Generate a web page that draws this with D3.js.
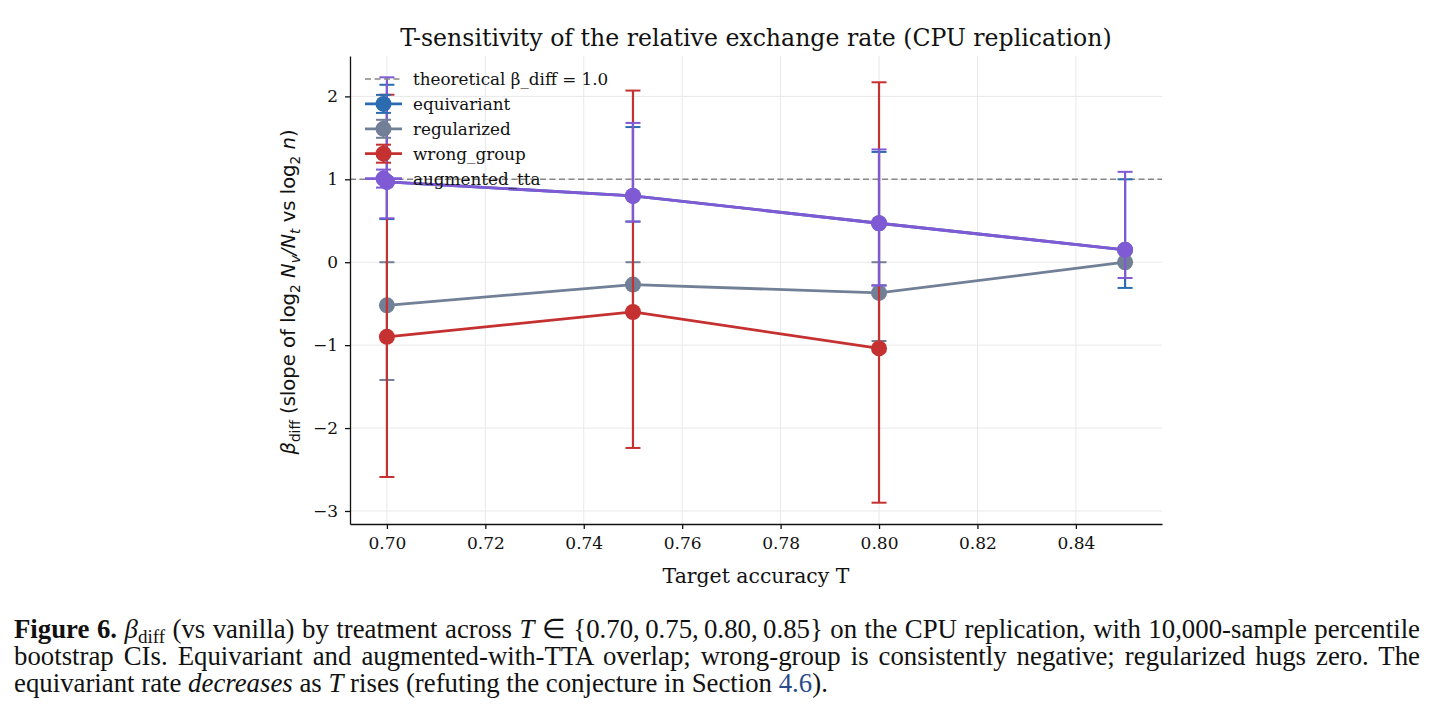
<!DOCTYPE html>
<meta charset="utf-8">
<style>

body {
  margin: 0;
  background: #fff;
}

svg text {
  font-family: "DejaVu Serif", serif;
  fill: #111;
}

.grid line {
  stroke: #e8e8e8;
  stroke-width: 1px;
}

.axis path,
.axis line {
  stroke: #111;
  stroke-width: 1.3px;
}

.axis text {
  font-family: "DejaVu Serif", serif;
  font-size: 17px;
  fill: #111;
}

.caption {
  font-family: "Liberation Serif", "Times New Roman", serif;
  font-size: 26.8px;
}

</style>
<body><svg width="1435" height="718"></svg></body>
<script src="https://d3js.org/d3.v7.min.js"></script>
<script>

// target accuracy values
var targets = [0.70, 0.75, 0.80, 0.85];
var xTicks = [0.70, 0.72, 0.74, 0.76, 0.78, 0.80, 0.82, 0.84];
var yTicks = [-3, -2, -1, 0, 1, 2];

// beta_diff estimates with bootstrap CI
var equivariantMean = [0.97, 0.80, 0.47, 0.15];
var equivariantLo   = [0.52, 0.49, -0.28, -0.31];
var equivariantHi   = [2.14, 1.63, 1.33, 1.00];

var regularizedMean = [-0.52, -0.27, -0.37, 0.00];
var regularizedLo   = [-1.42, -0.60, -0.95, 0.00];
var regularizedHi   = [0.00, 0.00, 0.00, 0.00];

var wrongGroupMean = [-0.90, -0.60, -1.04];
var wrongGroupLo   = [-2.59, -2.24, -2.90];
var wrongGroupHi   = [2.02, 2.07, 2.17];

var augmentedMean = [0.97, 0.80, 0.47, 0.15];
var augmentedLo   = [0.53, 0.49, -0.28, -0.19];
var augmentedHi   = [2.23, 1.68, 1.36, 1.09];

var theoreticalBeta = 1.0;

var series = [
  {name: "equivariant",   color: "#2b6cb0", mean: equivariantMean, lo: equivariantLo, hi: equivariantHi},
  {name: "regularized",   color: "#718096", mean: regularizedMean, lo: regularizedLo, hi: regularizedHi},
  {name: "wrong_group",   color: "#c53030", mean: wrongGroupMean,  lo: wrongGroupLo,  hi: wrongGroupHi},
  {name: "augmented_tta", color: "#805ad5", mean: augmentedMean,   lo: augmentedLo,   hi: augmentedHi}
];

var svg = d3.select("svg");

var plotLeft = 350, plotRight = 1162, plotTop = 56, plotBottom = 524;

var x = d3.scaleLinear().domain([0.6925, 0.8575]).range([plotLeft, plotRight]);
var y = d3.scaleLinear().domain([-3.157, 2.487]).range([plotBottom, plotTop]);

// grid
var grid = svg.append("g").attr("class", "grid");
grid.selectAll(".gx").data(xTicks).enter().append("line")
    .attr("x1", d => x(d)).attr("x2", d => x(d))
    .attr("y1", plotTop).attr("y2", plotBottom);
grid.selectAll(".gy").data(yTicks).enter().append("line")
    .attr("x1", plotLeft).attr("x2", plotRight)
    .attr("y1", d => y(d)).attr("y2", d => y(d));

// theoretical line
svg.append("line")
    .attr("x1", plotLeft).attr("x2", plotRight)
    .attr("y1", y(theoreticalBeta)).attr("y2", y(theoreticalBeta))
    .attr("stroke", "#888").attr("stroke-width", 1.4)
    .attr("stroke-dasharray", "6,3.5");

// axes
var minus = d => d < 0 ? "\u2212" + Math.abs(d) : d;

svg.append("g").attr("class", "axis")
    .attr("transform", "translate(0," + plotBottom + ")")
    .call(d3.axisBottom(x).tickValues(xTicks).tickFormat(d3.format(".2f")).tickSize(5).tickSizeOuter(0).tickPadding(8));

svg.append("g").attr("class", "axis")
    .attr("transform", "translate(" + plotLeft + ",0)")
    .call(d3.axisLeft(y).tickValues(yTicks).tickFormat(minus).tickSize(5).tickSizeOuter(0).tickPadding(7));

// series
var line = d3.line().x(d => x(d.t)).y(d => y(d.m));

series.forEach(function(s) {
  var pts = s.mean.map((m, i) => ({t: targets[i], m: m, lo: s.lo[i], hi: s.hi[i]}));
  var g = svg.append("g");

  g.selectAll(".eb").data(pts).enter().append("line")
      .attr("x1", d => x(d.t)).attr("x2", d => x(d.t))
      .attr("y1", d => y(d.lo)).attr("y2", d => y(d.hi))
      .attr("stroke", s.color).attr("stroke-width", 2.2);

  ["lo", "hi"].forEach(function(k) {
    g.selectAll(".cap-" + k).data(pts).enter().append("line")
        .attr("x1", d => x(d.t) - 7.5).attr("x2", d => x(d.t) + 7.5)
        .attr("y1", d => y(d[k])).attr("y2", d => y(d[k]))
        .attr("stroke", s.color).attr("stroke-width", 2);
  });

  g.append("path").datum(pts)
      .attr("d", line)
      .attr("fill", "none")
      .attr("stroke", s.color).attr("stroke-width", 2.8);

  g.selectAll("circle").data(pts).enter().append("circle")
      .attr("cx", d => x(d.t)).attr("cy", d => y(d.m))
      .attr("r", 8).attr("fill", s.color);
});

// legend
var legend = svg.append("g").attr("transform", "translate(365,79)");
legend.append("line")
    .attr("x1", 0).attr("x2", 37).attr("y1", 0).attr("y2", 0)
    .attr("stroke", "#888").attr("stroke-width", 1.4).attr("stroke-dasharray", "6,3.5");
legend.append("text").attr("x", 48).attr("y", 6)
    .style("font-size", "16.8px").text("theoretical \u03b2_diff = 1.0");

series.forEach(function(s, i) {
  var g = legend.append("g").attr("transform", "translate(0," + (24.9 * (i + 1)) + ")");
  g.append("line").attr("x1", 0).attr("x2", 37).attr("y1", 0).attr("y2", 0)
      .attr("stroke", s.color).attr("stroke-width", 2.8);
  g.append("line").attr("x1", 18.5).attr("x2", 18.5).attr("y1", -9).attr("y2", 9)
      .attr("stroke", s.color).attr("stroke-width", 2);
  [-9, 9].forEach(function(dy) {
    g.append("line").attr("x1", 11).attr("x2", 26).attr("y1", dy).attr("y2", dy)
        .attr("stroke", s.color).attr("stroke-width", 2);
  });
  g.append("circle").attr("cx", 18.5).attr("cy", 0).attr("r", 8).attr("fill", s.color);
  g.append("text").attr("x", 48).attr("y", 6)
      .style("font-size", "16.8px").text(s.name);
});

// title and axis labels
svg.append("text")
    .attr("x", (plotLeft + plotRight) / 2).attr("y", 46)
    .attr("text-anchor", "middle")
    .style("font-size", "23.6px")
    .text("T-sensitivity of the relative exchange rate (CPU replication)");

svg.append("text")
    .attr("x", (plotLeft + plotRight) / 2).attr("y", 583)
    .attr("text-anchor", "middle")
    .style("font-size", "20.4px")
    .text("Target accuracy T");

var sans = "'DejaVu Sans', sans-serif";
var yl = svg.append("text")
    .attr("transform", "translate(295,292) rotate(-90)")
    .attr("text-anchor", "middle")
    .style("font-family", sans)
    .style("font-size", "19.6px");
var ylParts = [
  ["i", "\u03b2"], ["sub", "diff"], ["n", " (slope of log"], ["sub", "2"],
  ["i", " N"], ["isub", "v"], ["i", "/N"], ["isub", "t"], ["n", " vs log"], ["sub", "2"], ["i", " n"], ["n", ")"]
];
var ylShift = false;
ylParts.forEach(function(p) {
  var sp = yl.append("tspan").style("font-family", sans).text(p[1]);
  var isSub = p[0] === "sub" || p[0] === "isub";
  if (isSub && !ylShift) { sp.attr("dy", 4.5); ylShift = true; }
  else if (!isSub && ylShift) { sp.attr("dy", -4.5); ylShift = false; }
  if (isSub) sp.style("font-size", "13.7px");
  if (p[0] === "i" || p[0] === "isub") sp.style("font-style", "italic");
});

// caption
var capLines = [
  [["b", "Figure 6."], ["n", " "], ["i", "\u03b2"], ["sub", "diff"], ["n", " (vs vanilla) by treatment across "], ["i", "T"], ["n", " \u2208 {0.70,\u20090.75,\u20090.80,\u20090.85} on the CPU replication, with 10,000-sample percentile"]],
  [["n", "bootstrap CIs. Equivariant and augmented-with-TTA overlap; wrong-group is consistently negative; regularized hugs zero. The"]],
  [["n", "equivariant rate "], ["i", "decreases"], ["n", " as "], ["i", "T"], ["n", " rises (refuting the conjecture in Section "], ["link", "4.6"], ["n", ")."]]
];
var capY = [638, 665, 692];
var capLen = [1406, 1406, null];

capLines.forEach(function(parts, li) {
  var t = svg.append("text").attr("class", "caption")
      .attr("x", 14).attr("y", capY[li]);
  var shifted = false;
  parts.forEach(function(p) {
    var sp = t.append("tspan").attr("class", "caption").text(p[1]);
    if (shifted) { sp.attr("dy", -5); shifted = false; }
    if (p[0] === "b") sp.style("font-weight", "bold");
    if (p[0] === "i") sp.style("font-style", "italic");
    if (p[0] === "sub") { sp.attr("dy", 5).style("font-size", "19px"); shifted = true; }
    if (p[0] === "link") sp.style("fill", "#2a4a8a");
  });
  if (capLen[li]) {
    // justify by widening the word gaps
    var natural = t.node().getComputedTextLength();
    var gaps = parts.map(p => p[1]).join("").split(" ").length - 1;
    t.style("word-spacing", ((capLen[li] - natural) / gaps) + "px");
  }
});

</script>
